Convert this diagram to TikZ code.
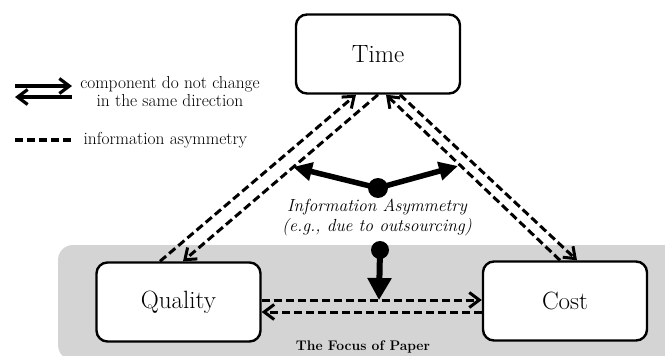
\documentclass[tikz,border=0pt]{standalone}
\usetikzlibrary{arrows.meta,calc}
\begin{document}
\begin{tikzpicture}[x=1pt,y=-1pt,
  box/.style={draw,line width=2.4pt,rounded corners=11pt,fill=white,minimum width=164pt,minimum height=79pt,inner sep=0pt,font=\fontsize{25}{28}\selectfont},
  dsh/.style={line width=3pt,dash pattern=on 8pt off 4pt},
  dharrow/.style={dsh,-{Straight Barb[length=10pt,width=15pt,line width=3pt]}},
  legarrow/.style={line width=3.2pt,-{Straight Barb[length=10pt,width=15pt,line width=3.2pt]}},
  fatarrow/.style={line width=5.5pt,-{Triangle[length=19pt,width=18pt]}},
  dot/.style={circle,fill=black,inner sep=0pt},
  legtext/.style={font=\fontsize{17.4}{18}\selectfont}
]
\useasboundingbox (0,0) rectangle (665,356);
\begin{scope}
  \clip (0,0) rectangle (665,356);
  \fill[black!17,rounded corners=15pt] (58,245) rectangle (700,360);
\end{scope}

% boxes
\node[box] (time) at (378,54) {Time};
\node[box] (quality) at (178.5,302) {Quality};
\node[box] (cost) at (565,301) {Cost};

% dots
\node[dot,minimum size=20pt] (d1) at (378,188) {};
\node[dot,minimum size=18pt] (d2) at (380,250) {};
\coordinate (ial) at (293,167);
\coordinate (iar) at (458,166);
\coordinate (iad) at (379,300);

% information asymmetry text
\node[font=\itshape\fontsize{17.5}{20}\selectfont,align=center] (iatext) at (377,217) {Information Asymmetry\\(e.g., due to outsourcing)};

% focus label
\node[font=\bfseries\fontsize{13.9}{16}\selectfont] (focus) at (363,347) {The Focus of Paper};

% dashed connectors Quality - Time
\draw[dharrow] ($(quality.north)+(-18.5,0)$) -- ($(time.south)+(-22,0)$);
\draw[dharrow] (time.south) -- ($(quality.north)+(4.5,0)$);
% dashed connectors Cost - Time
\draw[dharrow] ($(cost.north)+(-5,0)$) -- ($(time.south)+(8,0)$);
\draw[dharrow] ($(time.south)+(22,0)$) -- ($(cost.north)+(12,0)$);
% dashed connectors Quality - Cost
\draw[dharrow] ($(quality.east)+(0,-2)$) -- ($(cost.west)+(0,-1)$);
\draw[dharrow] ($(cost.west)+(0,11)$) -- ($(quality.east)+(0,10)$);

% fat arrows
\draw[fatarrow] (d1.center) -- (ial);
\draw[fatarrow] (d1.center) -- (iar);
\draw[line width=6pt,-{Triangle[length=22pt,width=23pt]}] (d2.center) -- (iad);

% legend
\coordinate (l1a) at (15,86);
\coordinate (l1b) at (72,86);
\coordinate (l2a) at (72,97);
\coordinate (l2b) at (15,97);
\coordinate (l3a) at (15,140);
\coordinate (l3b) at (72,140);
\draw[legarrow] (l1a) -- (l1b);
\draw[legarrow] (l2a) -- (l2b);
\draw[dsh,line width=3.2pt] (l3a) -- (l3b);
\node[legtext,align=center] (leg1) at (170,92) {component do not change\\in the same direction};
\node[legtext,anchor=west] (leg2) at (80,140) {information asymmetry};
\end{tikzpicture}
\end{document}
